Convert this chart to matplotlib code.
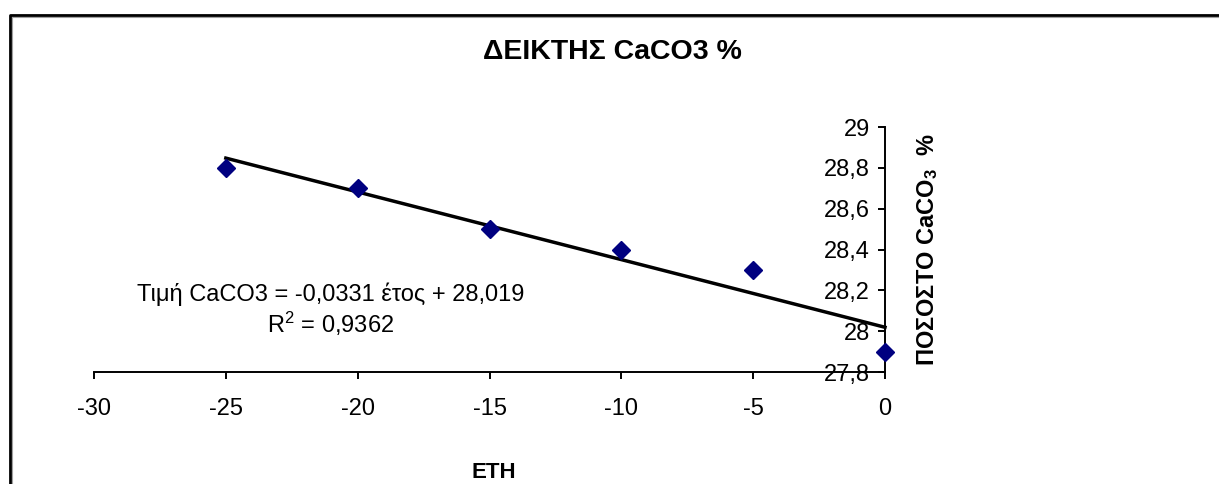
import numpy as np
import matplotlib
matplotlib.use("Agg")
import matplotlib.pyplot as plt
from matplotlib.ticker import FuncFormatter, MultipleLocator
from matplotlib.lines import Line2D

plt.rcParams["font.family"] = ["Liberation Sans", "DejaVu Sans"]
plt.rcParams["mathtext.fontset"] = "custom"
plt.rcParams["mathtext.rm"] = "Liberation Sans"
plt.rcParams["mathtext.bf"] = "Liberation Sans:bold"
plt.rcParams["mathtext.it"] = "Liberation Sans:italic"
plt.rcParams["axes.unicode_minus"] = False

# δεδομένα
years = [-25, -20, -15, -10, -5, 0]
caco3 = [28.8, 28.7, 28.5, 28.4, 28.3, 27.9]

title = "ΔΕΙΚΤΗΣ CaCO3 %"
xlabel = "ΕΤΗ"
ylabel = r"ΠΟΣΟΣΤΟ CaCO$_\mathbf{3}$  %"
eq_text = "Τιμή CaCO3 = -0,0331 έτος + 28,019\nR$^2$ = 0,9362"

W, H = 1219, 484
fig = plt.figure(figsize=(W / 100, H / 100), dpi=100)
ax = fig.add_axes([94 / W, 1 - 372 / H, (885 - 94) / W, (372 - 127) / H])

# σημεία και γραμμή τάσης
ax.plot(years, caco3, linestyle="none", marker="D", markersize=9,
        color="#000080", clip_on=False, zorder=3)
slope, intercept = np.polyfit(years, caco3, 1)
xt = np.array([min(years), max(years)])
ax.plot(xt, slope * xt + intercept, color="black", lw=2.5, zorder=2, clip_on=False)

ax.set_xlim(-30, 0)
ax.set_ylim(27.8, 29)
ax.xaxis.set_major_locator(MultipleLocator(5))
ax.yaxis.set_major_locator(MultipleLocator(0.2))
ax.yaxis.set_major_formatter(FuncFormatter(lambda v, p: f"{v:.1f}".rstrip("0").rstrip(".").replace(".", ",")))

ax.spines["left"].set_position(("data", 0))
ax.spines["top"].set_visible(False)
ax.spines["right"].set_visible(False)
for s in ("left", "bottom"):
    ax.spines[s].set_linewidth(1.4)
ax.tick_params(axis="both", direction="out", length=5, width=1.4, labelsize=17)
ax.tick_params(axis="x", pad=14)
ax.tick_params(axis="y", pad=6)
ax.patch.set_alpha(0)

ax.text((331 - 94) / 791, (372 - 310) / 245, eq_text, transform=ax.transAxes,
        ha="center", va="center", multialignment="center", fontsize=17,
        linespacing=1.15)
ax.text((928 - 94) / 791, 0.5, ylabel, transform=ax.transAxes, rotation=90,
        ha="center", va="center", fontsize=17, fontweight="bold")

fig.text(612 / W, 1 - 52 / H, title, ha="center", va="center",
         fontsize=20.5, fontweight="bold")
fig.text(494 / W, 1 - 473 / H, xlabel, ha="center", va="center",
         fontsize=16, fontweight="bold")

# πλαίσιο γραφήματος (φαίνεται μόνο πάνω και αριστερά)
x0, y0 = 9.5 / W, 1 - 14.5 / H
fig.add_artist(Line2D([x0 + 2 / W, 1], [y0 - 2 / H, y0 - 2 / H], color="#a0a0a0", lw=0.8))
fig.add_artist(Line2D([x0 + 2 / W, x0 + 2 / W], [0, y0 - 2 / H], color="#a0a0a0", lw=0.8))
fig.add_artist(Line2D([x0, x0, 1], [0, y0, y0], color="black", lw=2))

fig.savefig("out.png", dpi=100)
